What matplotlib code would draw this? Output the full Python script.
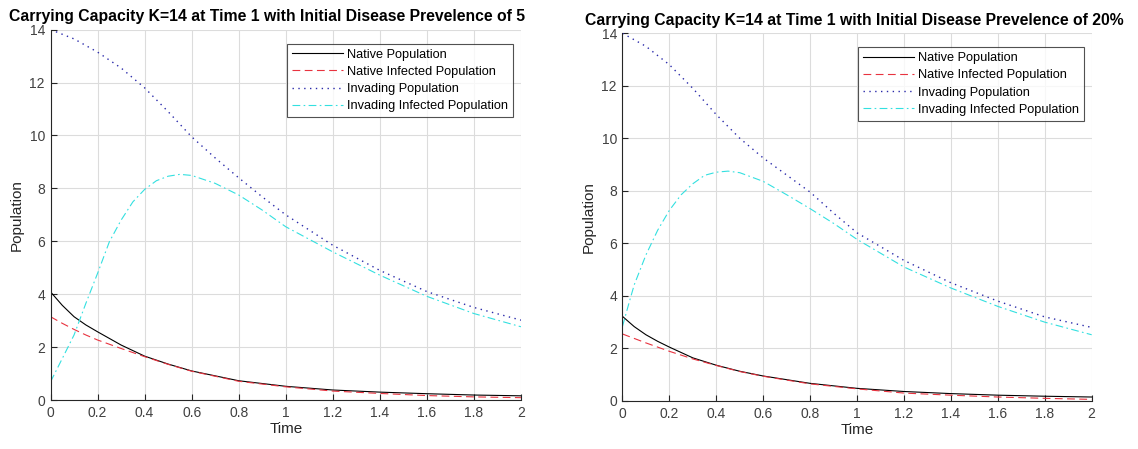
import numpy as np
import matplotlib
matplotlib.use("Agg")
import matplotlib.pyplot as plt

plt.rcParams['font.family'] = ['Liberation Sans', 'DejaVu Sans']

# ---- left panel (initial prevalence 5) ----
t_nat_a = [0, 0.05, 0.1, 0.15, 0.2, 0.3, 0.4, 0.5, 0.6, 0.8, 1.0, 1.2, 1.4, 1.6, 1.8, 2.0]
native_a = [4.09, 3.58, 3.15, 2.84, 2.58, 2.08, 1.66, 1.36, 1.10, 0.73, 0.52, 0.38, 0.30, 0.24, 0.19, 0.16]
native_inf_a = [3.15, 2.9, 2.67, 2.46, 2.27, 1.95, 1.64, 1.35, 1.09, 0.71, 0.50, 0.34, 0.25, 0.17, 0.12, 0.09]

t_inv_a = [0, 0.1, 0.2, 0.3, 0.4, 0.5, 0.6, 0.7, 0.8, 0.9, 1.0, 1.2, 1.4, 1.6, 1.8, 2.0]
invading_a = [14.0, 13.65, 13.15, 12.55, 11.8, 10.9, 9.95, 9.15, 8.4, 7.68, 7.0, 5.85, 4.9, 4.1, 3.5, 3.02]

t_ii_a = [0, 0.05, 0.1, 0.15, 0.2, 0.25, 0.3, 0.35, 0.4, 0.45, 0.5, 0.55, 0.6, 0.7, 0.8, 0.9, 1.0,
          1.2, 1.4, 1.6, 1.8, 2.0]
inv_inf_a = [0.69, 1.57, 2.46, 3.65, 4.79, 5.98, 6.8, 7.49, 7.96, 8.29, 8.46, 8.53, 8.49, 8.19, 7.75,
             7.18, 6.55, 5.6, 4.72, 3.92, 3.27, 2.77]

# ---- right panel (initial prevalence 20%) ----
t_nat_b = [0, 0.05, 0.1, 0.15, 0.2, 0.3, 0.4, 0.5, 0.6, 0.8, 1.0, 1.2, 1.4, 1.6, 1.8, 2.0]
native_b = [3.22, 2.83, 2.52, 2.27, 2.05, 1.64, 1.36, 1.13, 0.95, 0.67, 0.48, 0.36, 0.28, 0.22, 0.18, 0.15]
native_inf_b = [2.55, 2.38, 2.21, 2.05, 1.89, 1.60, 1.35, 1.12, 0.94, 0.65, 0.46, 0.30, 0.22, 0.15, 0.10, 0.06]

t_inv_b = [0, 0.1, 0.2, 0.3, 0.4, 0.5, 0.6, 0.7, 0.8, 0.9, 1.0, 1.2, 1.4, 1.6, 1.8, 2.0]
invading_b = [14.0, 13.5, 12.8, 11.9, 10.9, 10.0, 9.25, 8.6, 7.95, 7.15, 6.4, 5.35, 4.5, 3.8, 3.2, 2.8]

t_ii_b = [0, 0.03, 0.05, 0.1, 0.15, 0.2, 0.25, 0.3, 0.35, 0.4, 0.45, 0.5, 0.6, 0.7, 0.8, 0.9, 1.0,
          1.2, 1.4, 1.6, 1.8, 2.0]
inv_inf_b = [2.84, 3.8, 4.42, 5.56, 6.5, 7.26, 7.85, 8.27, 8.59, 8.71, 8.75, 8.69, 8.36, 7.85, 7.32,
             6.76, 6.15, 5.1, 4.3, 3.6, 3.0, 2.52]

titles = ["Carrying Capacity K=14 at Time 1 with Initial Disease Prevelence of 5",
          "Carrying Capacity K=14 at Time 1 with Initial Disease Prevelence of 20%"]
title_x = [0.46, 0.495]
labels = ["Native Population", "Native Infected Population",
          "Invading Population", "Invading Infected Population"]

fig = plt.figure(figsize=(11.38, 4.49), dpi=100)
ax1 = fig.add_axes([0.0444, 0.109, 0.4134, 0.825])
ax2 = fig.add_axes([0.547, 0.107, 0.4123, 0.819])

panels = [
    (ax1, t_nat_a, native_a, native_inf_a, t_inv_a, invading_a, t_ii_a, inv_inf_a),
    (ax2, t_nat_b, native_b, native_inf_b, t_inv_b, invading_b, t_ii_b, inv_inf_b),
]

tick_col = '#404040'
for i, (ax, tn, nat, nati, tv, inv, ti, invi) in enumerate(panels):
    lw = 0.8
    ax.plot(tn, nat, color='k', lw=lw, label=labels[0])
    ax.plot(tn, nati, color='#e8333f', lw=lw, dashes=(7, 4), label=labels[1])
    ax.plot(tv, inv, color='#2a2aaa', lw=1.0, linestyle=(0, (1, 3.2)), label=labels[2])
    ax.plot(ti, invi, color='#33e0e0', lw=lw, dashes=(7, 3, 1.5, 3), label=labels[3])

    ax.set_xlim(0, 2)
    ax.set_ylim(0, 14)
    ax.set_xticks(np.arange(0, 2.01, 0.2))
    ax.set_xticklabels(['0', '0.2', '0.4', '0.6', '0.8', '1', '1.2', '1.4', '1.6', '1.8', '2'])
    ax.set_yticks(np.arange(0, 15, 2))
    ax.grid(True, color='#dcdcdc', lw=0.8)
    ax.set_axisbelow(True)
    ax.spines['top'].set_visible(False)
    ax.spines['right'].set_visible(False)
    for s in ['left', 'bottom']:
        ax.spines[s].set_color('#262626')
        ax.spines[s].set_linewidth(0.8)
    ax.tick_params(direction='in', length=4, width=0.8, colors='#262626',
                   labelcolor=tick_col, labelsize=10, pad=4)
    ax.set_xlabel('Time', fontsize=11, color='#262626', labelpad=2)
    ax.set_ylabel('Population', fontsize=11, color='#262626', labelpad=4)
    ax.set_title(titles[i], fontsize=11.3, fontweight='bold', pad=6, x=title_x[i])

    leg = ax.legend(loc='upper right', bbox_to_anchor=(0.983, 0.962), fontsize=9.2,
                    frameon=True, fancybox=False, handlelength=4.0, handletextpad=0.3,
                    borderpad=0.4, labelspacing=0.4, borderaxespad=0)
    leg.get_frame().set_edgecolor('#262626')
    leg.get_frame().set_linewidth(0.8)

fig.savefig('out.png', dpi=100)
